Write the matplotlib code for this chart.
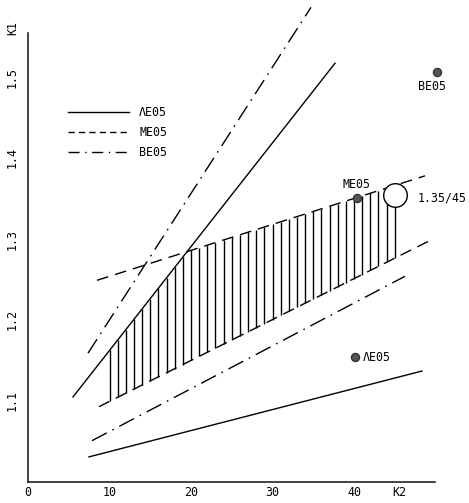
import matplotlib
matplotlib.use("Agg")
import matplotlib.pyplot as plt
from matplotlib.lines import Line2D
import numpy as np

# ---- data (K2 on x, K1 on y) ----
ae05_upper_k2 = [5.52, 37.67]
ae05_upper_k1 = [1.105, 1.517]
ae05_lower_k2 = [7.48, 48.34]
ae05_lower_k1 = [1.031, 1.137]

me05_upper_k2 = [8.47, 48.71]
me05_upper_k1 = [1.249, 1.378]
me05_lower_k2 = [8.71, 49.69]
me05_lower_k1 = [1.093, 1.300]

be05_upper_k2 = [7.36, 34.72]
be05_upper_k1 = [1.159, 1.586]
be05_lower_k2 = [7.85, 46.26]
be05_lower_k1 = [1.051, 1.254]

hatch_k2 = list(range(10, 46))

point_names = ["BE05", "ME05", "ΛE05"]
point_k2 = [50.18, 40.37, 40.12]
point_k1 = [1.506, 1.3506, 1.1543]

target_k2 = 45.03
target_k1 = 1.354
target_label = "1.35/45"

x_ticks = [0, 10, 20, 30, 40]
y_ticks = [1.1, 1.2, 1.3, 1.4, 1.5]

FONT = "DejaVu Sans Mono"
FS = 8.4

W, H = 469, 503
fig = plt.figure(figsize=(W / 100, H / 100), dpi=100)
# axes: K2=0 at px 28, 8.15 px/unit; K1=1.0 at py 482, 810 px/unit
left = 28 / W
bottom = (H - 482) / H
xmax = 50.0
ytop = 1.565
ax = fig.add_axes([left, bottom, xmax * 8.15 / W, (ytop - 1.0) * 810 / H])
ax.set_xlim(0, xmax)
ax.set_ylim(1.0, ytop)

for s in ["top", "right"]:
    ax.spines[s].set_visible(False)
ax.spines["left"].set_bounds(1.0, 1.554)
ax.spines["bottom"].set_bounds(0, 49.9)
for s in ["left", "bottom"]:
    ax.spines[s].set_linewidth(1.2)
    ax.spines[s].set_color("#222222")

ax.set_xticks(x_ticks + [45.6])
ax.set_xticklabels([str(t) for t in x_ticks] + ["K2"], fontfamily=FONT, fontsize=FS)
ax.set_yticks(y_ticks)
ax.set_yticklabels([f"{t:.1f}" for t in y_ticks], fontfamily=FONT, fontsize=FS,
                   rotation=90, va="center")
ax.tick_params(axis="both", length=0)
ax.tick_params(axis="x", pad=3)
ax.tick_params(axis="y", pad=7)
ax.text(-1.84, 1.560, "K1", rotation=90, ha="center", va="center",
        fontfamily=FONT, fontsize=FS)

lw = 1.0
dashed = (0, (8.5, 5))
dashdot = (0, (12, 4.5, 1.2, 4.5))

# hatch between the boundaries
hx = np.array(hatch_k2, dtype=float)
solid_up = np.interp(hx, ae05_upper_k2, ae05_upper_k1, left=np.nan, right=np.nan)
solid_up = ae05_upper_k1[0] + (hx - ae05_upper_k2[0]) * (ae05_upper_k1[1] - ae05_upper_k1[0]) / (ae05_upper_k2[1] - ae05_upper_k2[0])
dash_up = me05_upper_k1[0] + (hx - me05_upper_k2[0]) * (me05_upper_k1[1] - me05_upper_k1[0]) / (me05_upper_k2[1] - me05_upper_k2[0])
dash_lo = me05_lower_k1[0] + (hx - me05_lower_k2[0]) * (me05_lower_k1[1] - me05_lower_k1[0]) / (me05_lower_k2[1] - me05_lower_k2[0])
upper = np.minimum(solid_up, dash_up)
ax.vlines(hx, dash_lo, upper, color="black", lw=1.0, zorder=2)

ax.plot(ae05_upper_k2, ae05_upper_k1, color="black", lw=lw, clip_on=False, zorder=3)
ax.plot(ae05_lower_k2, ae05_lower_k1, color="black", lw=lw, clip_on=False, zorder=3)
ax.plot(me05_upper_k2, me05_upper_k1, color="black", lw=lw, ls=dashed, clip_on=False, zorder=3)
ax.plot(me05_lower_k2, me05_lower_k1, color="black", lw=lw, ls=dashed, clip_on=False, zorder=3)
ax.plot(be05_upper_k2, be05_upper_k1, color="black", lw=lw, ls=dashdot, clip_on=False, zorder=3)
ax.plot(be05_lower_k2, be05_lower_k1, color="black", lw=lw, ls=dashdot, clip_on=False, zorder=3)

# points
ax.plot(point_k2, point_k1, "o", ms=5.8, color="#555555", mec="#333333",
        clip_on=False, zorder=5, ls="none")
ax.text(49.57, 1.4877, point_names[0], ha="center", va="center", fontfamily=FONT, fontsize=FS)
ax.text(40.25, 1.3667, point_names[1], ha="center", va="center", fontfamily=FONT, fontsize=FS)
ax.text(41.1, 1.1543, point_names[2], ha="left", va="center", fontfamily=FONT, fontsize=FS)

ax.plot([target_k2], [target_k1], "o", ms=17, mfc="white", mec="black", mew=1.0,
        clip_on=False, zorder=6)
ax.text(47.85, 1.3506, target_label, ha="left", va="center", fontfamily=FONT, fontsize=FS)

# legend
handles = [
    Line2D([], [], color="black", lw=lw),
    Line2D([], [], color="black", lw=lw, ls=(0, (4.5, 3))),
    Line2D([], [], color="black", lw=lw, ls=(0, (8, 4, 1, 4))),
]
leg = ax.legend(handles, ["ΛE05", "ME05", "BE05"], loc="upper left",
                bbox_to_anchor=(68 / W, 1 - 106 / H), bbox_transform=fig.transFigure,
                frameon=False, borderpad=0, borderaxespad=0,
                handlelength=5.2, handletextpad=0.9, labelspacing=0.62,
                prop={"family": FONT, "size": FS})

fig.savefig("out.png", dpi=100)
